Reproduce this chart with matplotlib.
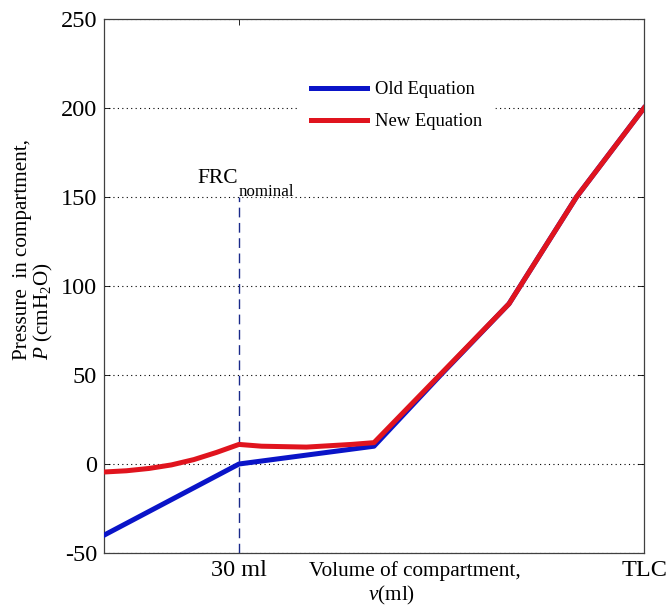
import matplotlib
matplotlib.use("Agg")
import matplotlib.pyplot as plt

plt.rcParams['font.family'] = ['Liberation Serif', 'DejaVu Serif']
plt.rcParams['mathtext.fontset'] = 'custom'
plt.rcParams['mathtext.rm'] = 'Liberation Serif'
plt.rcParams['mathtext.it'] = 'Liberation Serif:italic'

# Data (volume in ml, pressure in cmH2O)
old_x = [0, 30, 45, 60, 75, 90, 105, 120]
old_y = [-40, 0, 5, 10, 50.5, 90, 150, 200]
new_x = [0, 5, 10, 15, 20, 25, 30, 35, 45, 55, 60, 75, 90, 105, 120]
new_y = [-4.5, -3.8, -2.5, -0.5, 2.5, 6.5, 11, 10, 9.5, 11, 12, 51, 90, 150, 200]
frc_x = 30
xticks = [30, 120]
xtick_labels = ['30 ml', 'TLC']
yticks = [-50, 0, 50, 100, 150, 200, 250]

W, H = 668, 612
fig = plt.figure(figsize=(W / 100, H / 100), dpi=100)
L, R, T, B = 104, 644, 19, 553
ax = fig.add_axes([L / W, 1 - B / H, (R - L) / W, (B - T) / H])

ax.plot(old_x, old_y, color='#0a14c8', lw=3.6, label='Old Equation', zorder=3,
        solid_joinstyle='round')
ax.plot(new_x, new_y, color='#e0141e', lw=3.6, label='New Equation', zorder=4,
        solid_joinstyle='round')
ax.plot([frc_x, frc_x], [-50, 150], color='#1a2a8a', lw=1.0, ls=(0, (7, 4)), zorder=2)

ax.set_xlim(0, 120)
ax.set_ylim(-50, 250)
ax.set_xticks(xticks)
ax.set_xticklabels(xtick_labels, fontsize=17.5)
ax.set_yticks(yticks)
ax.set_yticklabels([str(v) for v in yticks], fontsize=17.5)
ax.tick_params(direction='in', top=True, right=True, length=4, width=0.6, pad=5)
ax.yaxis.grid(True, ls=(0, (1, 3)), color='black', lw=0.8)
ax.set_axisbelow(True)
for s in ax.spines.values():
    s.set_linewidth(0.9)
    s.set_color('#404040')

leg = ax.legend(loc='upper left', bbox_to_anchor=((300 - L) / (R - L), 1 - (70 - T) / (B - T)),
                frameon=True, fontsize=13.4, handlelength=3.0, handletextpad=0.45,
                borderpad=0.6, labelspacing=0.8, borderaxespad=0)
leg.get_frame().set_facecolor('white')
leg.get_frame().set_edgecolor('white')
leg.get_frame().set_alpha(1.0)

# FRC_nominal annotation
fig.text(197 / W, 1 - 183 / H, 'FRC', fontsize=15.5, ha='left', va='baseline')
fig.text(239 / W, 1 - 196 / H, 'nominal', fontsize=12.2, ha='left', va='baseline')

# Axis labels
fig.text(13 / W, 1 - 360 / H, 'Pressure  in compartment,\n$P$ (cmH$_2$O)',
         rotation=90, fontsize=15.2, ha='left', va='bottom', multialignment='left',
         linespacing=1.0)
fig.text(309 / W, 1 - 576 / H, 'Volume of compartment,', fontsize=15.3,
         ha='left', va='baseline')
fig.text(368 / W, 1 - 600 / H, '$v$(ml)', fontsize=15.3, ha='left', va='baseline')

fig.savefig('out.png', dpi=100)
